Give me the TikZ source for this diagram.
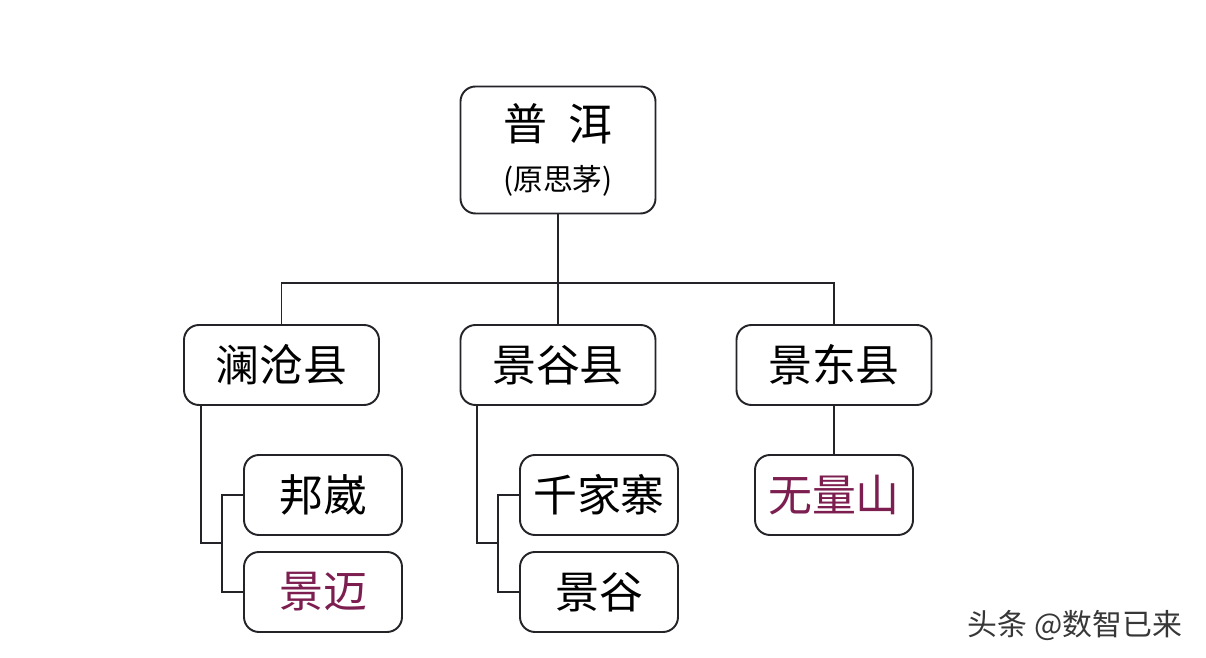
\documentclass[tikz,border=0pt]{standalone}
\usepackage{fontspec}
\usepackage{xcolor}
\setmainfont{Noto Sans CJK SC}
\definecolor{linegray}{RGB}{35, 35, 40}
\definecolor{teapink}{RGB}{125, 30, 80}
\definecolor{markgray}{RGB}{55, 55, 55}
\usetikzlibrary{positioning, calc}

\begin{document}
\begin{tikzpicture}[
    area/.style={rectangle, draw=linegray, line width=1.1pt, rounded corners=0.3cm, fill=white, minimum width=3.9cm, minimum height=1.6cm, align=center, font=\fontsize{25}{28}\selectfont},
    village/.style={area, minimum width=3.16cm},
    link/.style={draw=linegray, line width=1.1pt}
]
    \useasboundingbox[fill=white] (0, 0) rectangle (24.12, 13.16);

    \node[area, minimum height=2.54cm] (puer) at (11.16, 10.16) {普\hspace{0.5em}洱\\[0pt]{\fontsize{17}{20}\selectfont (原思茅)}};

    \node[area] (lancang) at (5.63, 5.86) {澜沧县};
    \node[area] (jingguxian) at (11.16, 5.86) {景谷县};
    \node[area] (jingdong) at (16.68, 5.86) {景东县};

    \node[village] (bangwai) at (6.46, 3.26) {邦崴};
    \node[village, text=teapink] (jingmai) at (6.46, 1.32) {景迈};
    \node[village] (qianjiazhai) at (11.98, 3.26) {千家寨};
    \node[village] (jinggu) at (11.98, 1.32) {景谷};
    \node[village, text=teapink] (wuliang) at (16.68, 3.26) {无量山};

    \coordinate (bus) at (11.16, 7.5);
    \coordinate (lcjoin) at (4.44, 2.3);
    \coordinate (jgjoin) at (9.96, 2.3);

    \draw[link] (puer.south) -- (jingguxian.north);
    \draw[link] (lancang.north) |- (bus) -| (jingdong.north);
    \draw[link] ([xshift=0.36cm]lancang.south west) |- (lcjoin);
    \draw[link] (bangwai.west) -| (lcjoin) |- (jingmai.west);
    \draw[link] ([xshift=0.34cm]jingguxian.south west) |- (jgjoin);
    \draw[link] (qianjiazhai.west) -| (jgjoin) |- (jinggu.west);
    \draw[link] (jingdong.south) -- (wuliang.north);

    \node[text=markgray, font=\fontsize{17}{20}\selectfont] (mark) at (21.5, 0.66) {头条 @数智已来};

\end{tikzpicture}
\end{document}
